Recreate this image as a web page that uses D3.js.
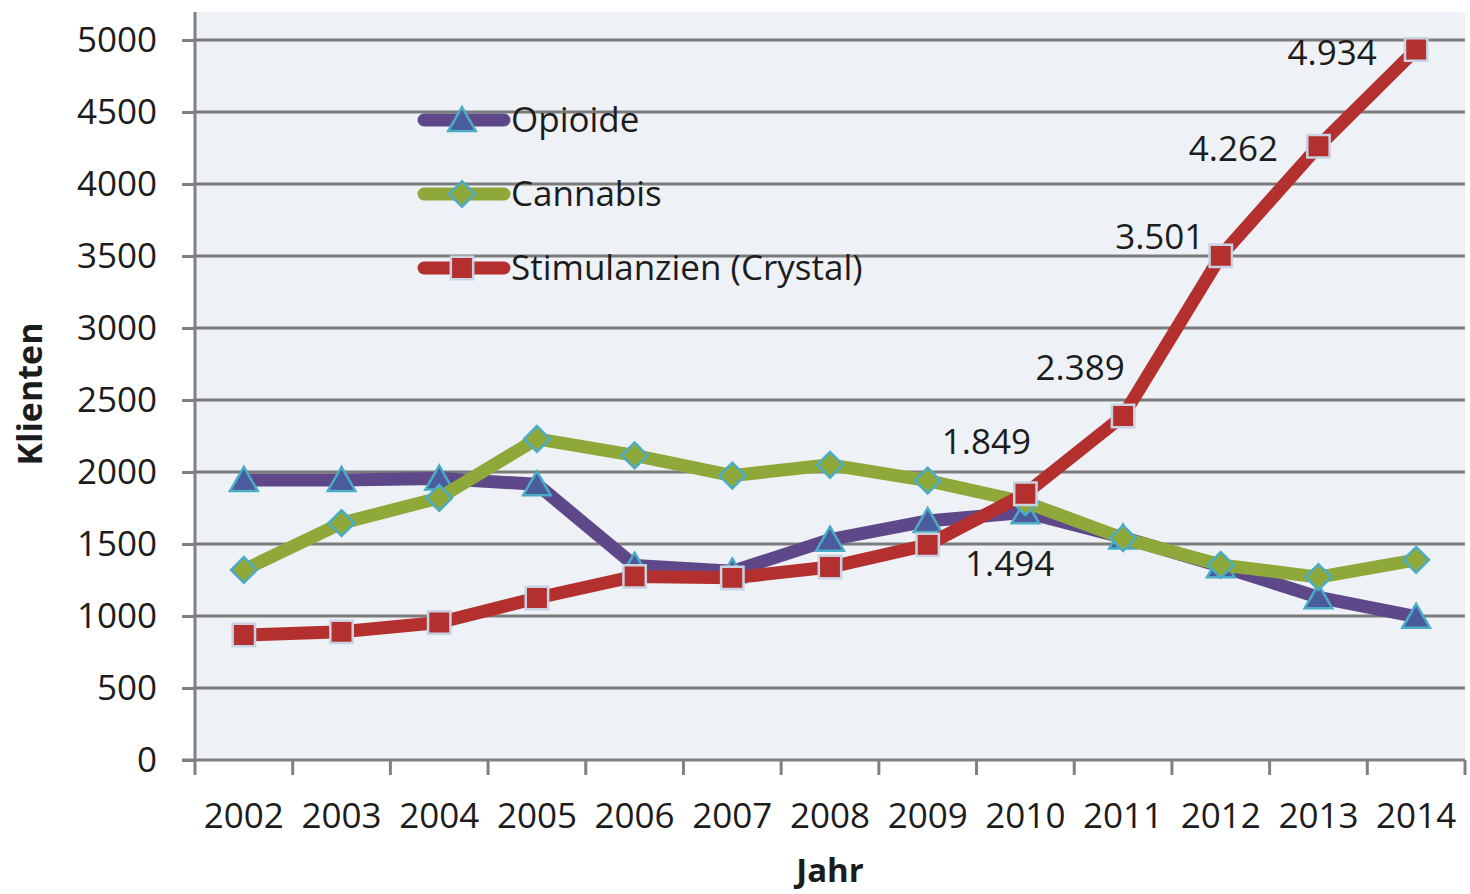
<!DOCTYPE html>
<html>
<head>
<meta charset="utf-8">
<script src="https://cdn.jsdelivr.net/npm/d3@7"></script>
<style>
  body { margin: 0; background: #fff; }
  svg text { font-family: "Open Sans", sans-serif; fill: #1c1c1c; }
</style>
</head>
<body>
<svg id="chart" width="1470" height="894"></svg>
<script>
const years       = ["2002", "2003", "2004", "2005", "2006", "2007", "2008", "2009", "2010", "2011", "2012", "2013", "2014"];
const opioide     = [1945, 1945, 1955, 1915, 1350, 1310, 1530, 1660, 1720, 1545, 1345, 1130, 995];
const cannabis    = [1320, 1645, 1820, 2230, 2115, 1975, 2050, 1940, 1790, 1540, 1355, 1270, 1390];
const stimulanzien = [868, 890, 955, 1125, 1275, 1265, 1340, 1494, 1849, 2389, 3501, 4262, 4934];
const yTicks      = [0, 500, 1000, 1500, 2000, 2500, 3000, 3500, 4000, 4500, 5000];
const seriesNames = ["Opioide", "Cannabis", "Stimulanzien (Crystal)"];
const labelFrom   = 7; // data labels shown for stimulanzien from 2009 on

const svg = d3.select("#chart");
const plotLeft = 195, plotRight = 1465, plotTop = 12;

const x = d3.scaleBand().domain(years).range([plotLeft, plotRight]);
const y = d3.scaleLinear().domain([0, 5000]).range([760, 40]);
const cx = d => x(d) + x.bandwidth() / 2;

// plot background
svg.append("rect")
  .attr("x", plotLeft).attr("y", plotTop)
  .attr("width", plotRight - plotLeft).attr("height", y(0) - plotTop)
  .attr("fill", "#eef2f7");

// gridlines
svg.append("g").selectAll("line")
  .data(yTicks.filter(d => d > 0))
  .enter().append("line")
  .attr("x1", plotLeft).attr("x2", plotRight)
  .attr("y1", d => y(d)).attr("y2", d => y(d))
  .attr("stroke", "#7b7b7b").attr("stroke-width", 3);

// y axis
const yAxis = svg.append("g")
  .attr("transform", "translate(" + plotLeft + ",0)")
  .call(d3.axisLeft(y).tickValues(yTicks).tickFormat(d3.format("d")).tickSize(13).tickPadding(25));
yAxis.select(".domain").remove();
yAxis.selectAll(".tick line").attr("stroke", "#808080").attr("stroke-width", 3);
yAxis.selectAll(".tick text").attr("font-size", 35).attr("font-family", "Open Sans").attr("fill", "#1c1c1c");
svg.append("line")
  .attr("x1", plotLeft).attr("x2", plotLeft).attr("y1", plotTop).attr("y2", y(0) + 1)
  .attr("stroke", "#808080").attr("stroke-width", 3);

// x axis: ticks between categories
const xg = svg.append("g");
xg.append("line")
  .attr("x1", plotLeft - 13).attr("x2", plotRight).attr("y1", y(0)).attr("y2", y(0))
  .attr("stroke", "#808080").attr("stroke-width", 3);
xg.selectAll(".xt")
  .data(years.concat(["end"]))
  .enter().append("line")
  .attr("x1", (d, i) => i < years.length ? x(d) : plotRight)
  .attr("x2", (d, i) => i < years.length ? x(d) : plotRight)
  .attr("y1", y(0)).attr("y2", y(0) + 15)
  .attr("stroke", "#808080").attr("stroke-width", 3);
xg.selectAll("text")
  .data(years)
  .enter().append("text")
  .attr("x", d => cx(d)).attr("y", 828)
  .attr("text-anchor", "middle")
  .attr("font-size", 35)
  .text(d => d);

// axis titles
svg.append("text")
  .attr("transform", "translate(42," + ((plotTop + y(0)) / 2 + 8) + ") rotate(-90)")
  .attr("text-anchor", "middle")
  .attr("font-size", 34).attr("font-weight", "bold")
  .text("Klienten");
svg.append("text")
  .attr("x", 830).attr("y", 882)
  .attr("text-anchor", "middle")
  .attr("font-size", 33).attr("font-weight", "bold")
  .text("Jahr");

// markers
const tri = d3.symbol().type(d3.symbolTriangle).size(330);
const dia = d3.symbol().type(d3.symbolSquare).size(330);
const sq  = d3.symbol().type(d3.symbolSquare).size(500);

const series = [
  { name: seriesNames[0], values: opioide,      line: "#5f4889", fill: "#4a5c9c", stroke: "#4bacc6", sym: tri, dy: 3, rot: 0 },
  { name: seriesNames[1], values: cannabis,     line: "#8ea93a", fill: "#8ea93a", stroke: "#4bacc6", sym: dia, dy: 0, rot: 45 },
  { name: seriesNames[2], values: stimulanzien, line: "#b3302e", fill: "#b3302e", stroke: "#c8d2e0", sym: sq,  dy: 0, rot: 0 }
];

const line = d3.line()
  .x((d, i) => cx(years[i]))
  .y(d => y(d));

series.forEach(s => {
  svg.append("path")
    .datum(s.values)
    .attr("d", line)
    .attr("fill", "none")
    .attr("stroke", s.line)
    .attr("stroke-width", 13)
    .attr("stroke-linejoin", "round");
  svg.append("g").selectAll("path")
    .data(s.values)
    .enter().append("path")
    .attr("d", s.sym)
    .attr("transform", (d, i) => "translate(" + cx(years[i]) + "," + (y(d) + s.dy) + ") rotate(" + s.rot + ")")
    .attr("fill", s.fill)
    .attr("stroke", s.stroke)
    .attr("stroke-width", 2.5);
});

// data labels (German number format)
const de = d3.formatLocale({ decimal: ",", thousands: ".", grouping: [3], currency: ["", " €"] });
const fmt = de.format(",");
const labelOffsets = [[82, 19], [-39, -52], [-43, -48], [-61, -19], [-85, 2], [-84, 3]];
svg.append("g").selectAll("text")
  .data(stimulanzien.slice(labelFrom))
  .enter().append("text")
  .attr("x", (d, i) => cx(years[i + labelFrom]) + labelOffsets[i][0])
  .attr("y", (d, i) => y(d) + labelOffsets[i][1])
  .attr("dy", "0.35em")
  .attr("text-anchor", "middle")
  .attr("font-size", 35)
  .text(d => fmt(d));

// legend
const legend = svg.append("g");
series.forEach((s, i) => {
  const ly = 120 + i * 74;
  legend.append("line")
    .attr("x1", 424).attr("x2", 504).attr("y1", ly).attr("y2", ly)
    .attr("stroke", s.line).attr("stroke-width", 13).attr("stroke-linecap", "round");
  legend.append("path")
    .attr("d", s.sym)
    .attr("transform", "translate(462," + (ly + s.dy) + ") rotate(" + s.rot + ")")
    .attr("fill", s.fill).attr("stroke", s.stroke).attr("stroke-width", 2.5);
  legend.append("text")
    .attr("x", 511).attr("y", ly).attr("dy", "0.35em")
    .attr("font-size", 35)
    .text(s.name);
});
</script>
</body>
</html>
